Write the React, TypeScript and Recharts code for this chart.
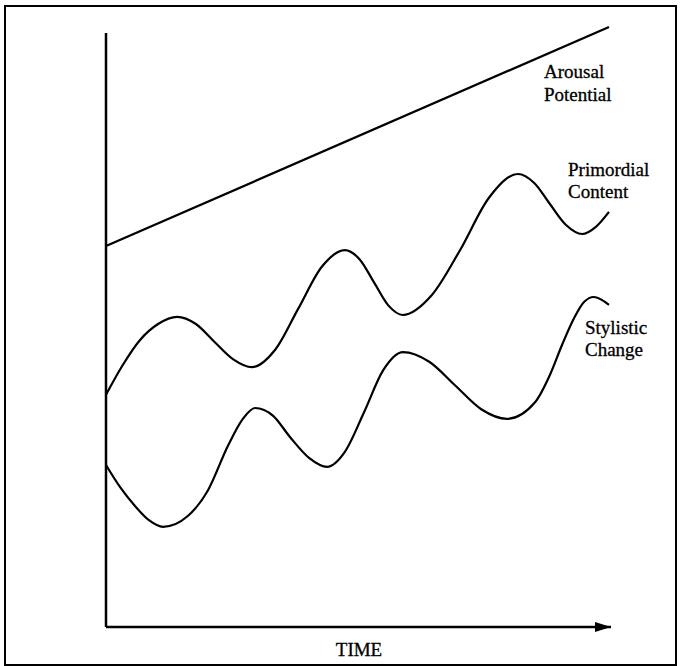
import React from 'react';
import { LineChart, Line, XAxis, YAxis, ReferenceLine, ReferenceDot } from 'recharts';

// Abstract units: time 0..100, level 0..100
const arousalTime = [0, 99.6];
const arousalLevel = [63.5, 100];

const primordialTime = [0, 3.2, 6.7, 10.3, 14.1, 17.8, 21.5, 25.2, 28.9, 33.5, 38.1, 42.7, 47.3, 50.2, 53.1, 55.9, 58.8, 64.4, 70.1, 75.8, 81.6, 84.8, 87.9, 91.1, 94.3, 97.0, 99.6];
const primordialLevel = [38.7, 43.5, 47.8, 50.5, 51.7, 50.5, 47.5, 44.6, 43.3, 46.2, 53.1, 60.0, 62.8, 61.3, 57.4, 53.6, 52.0, 55.2, 62.8, 71.5, 75.5, 74.0, 70.5, 67.0, 65.5, 66.7, 69.2];

const stylisticTime = [0, 2.8, 5.7, 8.5, 11.3, 16.2, 20.2, 24.2, 27.1, 29.5, 33.1, 36.4, 40.2, 43.8, 47.3, 51.1, 54.9, 58.8, 64.0, 69.1, 74.3, 79.4, 85.0, 87.9, 90.3, 92.7, 94.7, 96.6, 99.6];
const stylisticLevel = [27.0, 23.3, 20.2, 17.8, 16.7, 18.5, 22.8, 30.3, 34.7, 36.5, 35.2, 31.7, 28.2, 26.7, 29.2, 35.8, 42.8, 45.8, 44.2, 40.3, 36.3, 34.7, 37.5, 42.0, 47.0, 51.5, 54.2, 55.0, 53.7];

const timeDomain = [0, 100];
const levelDomain = [0, 100];
const yAxisTopLevel = 99;

const seriesLabels = {
  arousal: ['Arousal', 'Potential'],
  primordial: ['Primordial', 'Content'],
  stylistic: ['Stylistic', 'Change'],
};
const xAxisLabel = 'TIME';

const toPoints = (t: number[], v: number[]) => t.map((x, i) => ({ t: x, v: v[i] }));

const arousalData = toPoints(arousalTime, arousalLevel);
const primordialData = toPoints(primordialTime, primordialLevel);
const stylisticData = toPoints(stylisticTime, stylisticLevel);

const ArrowHead = (props: any) => {
  const { cx, cy } = props;
  return (
    <polygon
      points={`${cx},${cy} ${cx - 16},${cy - 5} ${cx - 16},${cy + 5}`}
      fill="#000"
    />
  );
};

const fontFamily = '"Liberation Serif", "Times New Roman", serif';

export default function App() {
  return (
    <div style={{ position: 'absolute', left: 0, top: 0, width: 680, height: 666, background: '#fff' }}>
      <div
        style={{
          position: 'absolute',
          left: 4,
          top: 5,
          width: 673,
          height: 661,
          border: '2px solid #000',
          boxSizing: 'border-box',
        }}
      />
      <div style={{ position: 'absolute', left: 0, top: 0 }}>
        <LineChart width={680} height={666} margin={{ top: 27, right: 69, bottom: 39, left: 106 }}>
          <XAxis type="number" dataKey="t" domain={timeDomain} hide />
          <YAxis type="number" dataKey="v" domain={levelDomain} hide />
          <ReferenceLine
            segment={[{ x: 0, y: 0 }, { x: 0, y: yAxisTopLevel }]}
            stroke="#000"
            strokeWidth={2.5}
            ifOverflow="visible"
          />
          <ReferenceLine
            segment={[{ x: 0, y: 0 }, { x: 100, y: 0 }]}
            stroke="#000"
            strokeWidth={2.5}
            ifOverflow="visible"
          />
          <ReferenceDot x={100} y={0} r={5} shape={ArrowHead} ifOverflow="visible" />
          <Line data={arousalData} dataKey="v" type="linear" stroke="#000" strokeWidth={2.3} dot={false} isAnimationActive={false} />
          <Line data={primordialData} dataKey="v" type="monotone" stroke="#000" strokeWidth={2.2} dot={false} isAnimationActive={false} />
          <Line data={stylisticData} dataKey="v" type="monotone" stroke="#000" strokeWidth={2.2} dot={false} isAnimationActive={false} />
        </LineChart>
      </div>
      <svg
        width={680}
        height={666}
        style={{ position: 'absolute', left: 0, top: 0, pointerEvents: 'none' }}
        fontFamily={fontFamily}
        fontSize={19}
        fill="#000"
        stroke="#000"
        strokeWidth={0.3}
      >
        <text x={544} y={78}>{seriesLabels.arousal[0]}</text>
        <text x={544} y={101}>{seriesLabels.arousal[1]}</text>
        <text x={568} y={176}>{seriesLabels.primordial[0]}</text>
        <text x={568} y={198}>{seriesLabels.primordial[1]}</text>
        <text x={585} y={334}>{seriesLabels.stylistic[0]}</text>
        <text x={585} y={356}>{seriesLabels.stylistic[1]}</text>
        <text x={359} y={656} textAnchor="middle">{xAxisLabel}</text>
      </svg>
    </div>
  );
}
